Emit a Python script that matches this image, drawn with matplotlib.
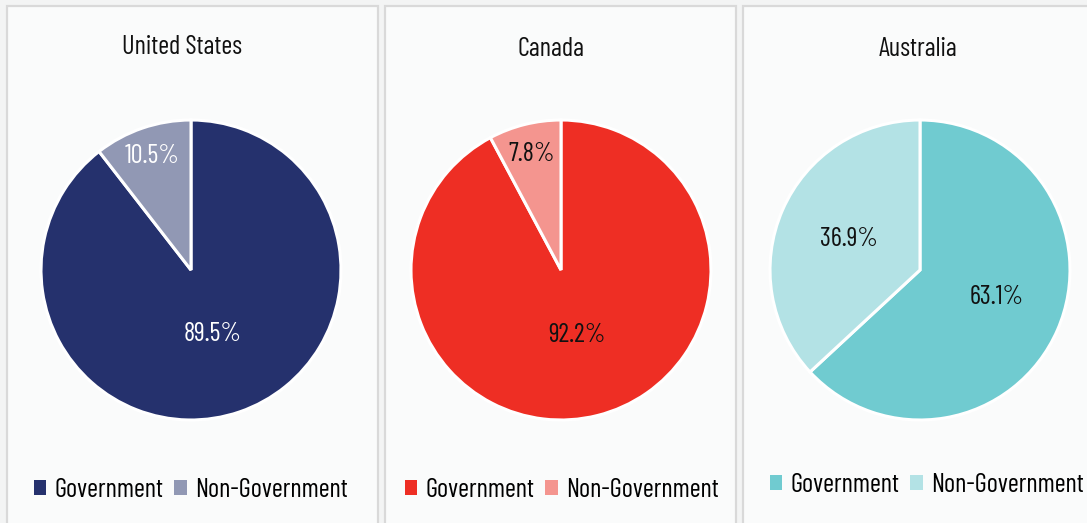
import matplotlib
matplotlib.use("Agg")
import matplotlib.pyplot as plt
from matplotlib import font_manager
from matplotlib.patches import Rectangle, Patch
import numpy as np

# Share of spending by sector
countries = ["United States", "Canada", "Australia"]
categories = ["Government", "Non-Government"]
government = [89.5, 92.2, 63.1]
non_government = [10.5, 7.8, 36.9]

COLORS = [
    ("#25316d", "#9198b4"),
    ("#ee2e24", "#f4958f"),
    ("#70cbd0", "#b3e2e5"),
]
LABEL_COLORS = [
    ("white", "white"),
    ("#111111", "#111111"),
    ("#111111", "#111111"),
]

W, H = 1087, 523
DPI = 100


def pick_font():
    names = {f.name for f in font_manager.fontManager.ttflist}
    # (family, stretch, size scale)
    for name, scale in [("Barlow Condensed", 1.0), ("Barlow Semi Condensed", 0.88),
                        ("Roboto Condensed", 0.9), ("Liberation Sans Narrow", 0.85)]:
        if name in names:
            return name, "normal", scale
    return "DejaVu Sans", "condensed", 0.75


FAMILY, STRETCH, SCALE = pick_font()


def px(x, y):
    # pixel (top-left origin) -> figure fraction
    return x / W, 1 - y / H


def text_props(size, color="#111111"):
    return dict(fontsize=size * SCALE, color=color, family=FAMILY,
                fontstretch=STRETCH, fontweight="normal")


fig = plt.figure(figsize=(W / DPI, H / DPI), dpi=DPI)
fig.patch.set_facecolor("#f3f4f4")

# panel frames: left, right (pixels)
panels = [(7, 378), (385, 736), (743, 1110)]
pie_centers = [(191, 270), (561, 270), (920, 270)]
title_pos = [(182, 47), (551, 49), (918, 49)]
legend_pos = [(191, 490), (562, 490), (927, 485)]
RADIUS = 150

for i, country in enumerate(countries):
    left, right = panels[i]
    x0, y0 = px(left, 560)
    x1, y1 = px(right, 6)
    fig.patches.append(Rectangle((x0, y0), x1 - x0, y1 - y0, transform=fig.transFigure,
                                 facecolor="#fafbfb", edgecolor="#d9d9d9", linewidth=1.6,
                                 zorder=-1))

    tx, ty = px(*title_pos[i])
    fig.text(tx, ty, country, ha="center", va="center", **text_props(19))

    cx, cy = pie_centers[i]
    ax0, ay0 = px(cx - RADIUS, cy + RADIUS)
    ax = fig.add_axes([ax0, ay0, 2 * RADIUS / W, 2 * RADIUS / H])
    values = [government[i], non_government[i]]
    wedges, _ = ax.pie(values, colors=COLORS[i], startangle=90, counterclock=False,
                       wedgeprops=dict(edgecolor="white", linewidth=2.2))
    ax.set_xlim(-1, 1)
    ax.set_ylim(-1, 1)
    ax.axis("off")
    for w in wedges:
        w.set_clip_on(False)

    # percentage labels placed along each wedge's mid angle
    for j, w in enumerate(wedges):
        mid = np.deg2rad((w.theta1 + w.theta2) / 2)
        if i == 2:
            d = 0.52
            if j == 0:
                mid += np.deg2rad(4)
                d = 0.54
        else:
            d = 0.45 if j == 0 else 0.80
        ax.text(d * np.cos(mid), d * np.sin(mid), f"{values[j]}%", ha="center", va="center",
                **text_props(19, LABEL_COLORS[i][j]))

    lx, ly = px(*legend_pos[i])
    handles = [Patch(facecolor=c, edgecolor="none") for c in COLORS[i]]
    fig.legend(handles, categories, loc="center", bbox_to_anchor=(lx, ly), ncols=2,
               frameon=False, handlelength=0.48 / SCALE, handleheight=0.48 / SCALE,
               handletextpad=0.32, columnspacing=0.4,
               prop=font_manager.FontProperties(family=FAMILY, stretch=STRETCH,
                                                weight="normal", size=19 * SCALE))

fig.savefig("out.png", dpi=DPI, facecolor=fig.get_facecolor())
